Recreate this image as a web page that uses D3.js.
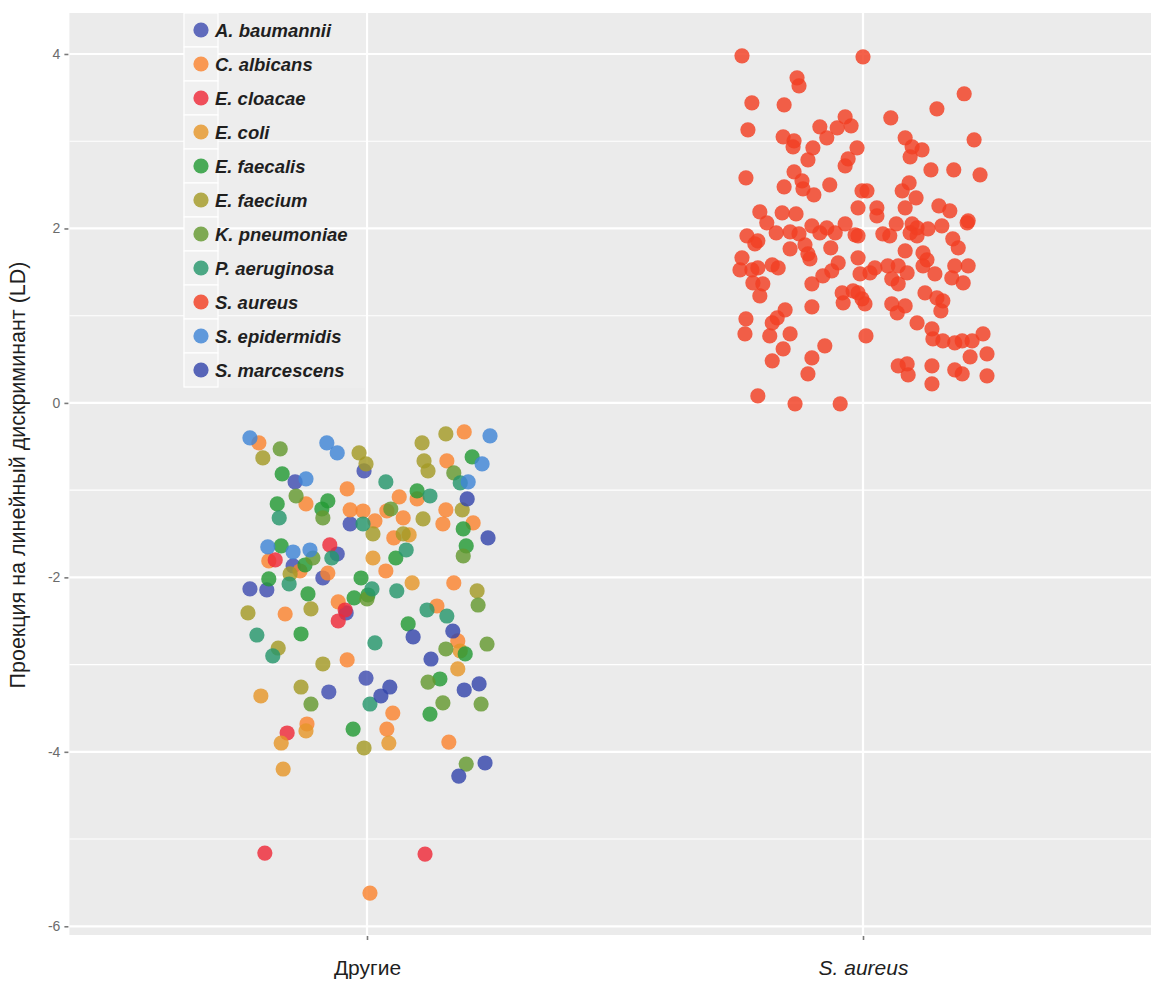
<!DOCTYPE html>
<html>
<head>
<meta charset="utf-8">
<script src="https://cdn.jsdelivr.net/npm/d3@7"></script>
<style>
  body { margin: 0; background: #ffffff; }
  svg { display: block; }
  text { font-family: "Liberation Sans", Arial, Helvetica, sans-serif; }
</style>
</head>
<body>
<svg id="chart" width="1151" height="981"></svg>
<script>
// Categories on the horizontal axis and LD tick values
const categories = ["Другие", "S. aureus"];
const yTicks = [-6, -4, -2, 0, 2, 4];
const yMinorTicks = [-5, -3, -1, 1, 3];

const speciesNames = [
  "A. baumannii", "C. albicans", "E. cloacae", "E. coli", "E. faecalis",
  "E. faecium", "K. pneumoniae", "P. aeruginosa", "S. aureus",
  "S. epidermidis", "S. marcescens"
];
const speciesColors = [
  "#3f4db0", "#fa8430", "#ee2a38", "#e5962a", "#239a35",
  "#a49a26", "#64982f", "#26966b", "#f23e22", "#3f85d6", "#3445ab"
];

// Each point: [jitter within the category, projection on LD]
const aBaumannii = [
  [-0.006, -0.780], [-0.145, -0.906], [-0.034, -1.388], [-0.060, -1.732],
  [-0.149, -1.869], [-0.089, -2.007], [-0.236, -2.133], [-0.202, -2.144],
  [-0.042, -2.408], [-0.002, -3.154], [-0.077, -3.314]
];
const cAlbicans = [
  [-0.218, -0.459], [-0.123, -1.158], [-0.040, -0.986], [-0.034, -1.227],
  [-0.008, -1.239], [-0.198, -1.812], [-0.135, -1.927], [-0.079, -1.950],
  [-0.058, -2.282], [-0.165, -2.420], [-0.040, -2.947], [-0.121, -3.681],
  [0.196, -0.333], [0.161, -0.665], [0.065, -1.078], [0.101, -1.101],
  [0.159, -1.227], [0.040, -1.239], [0.016, -1.353], [0.073, -1.319],
  [0.153, -1.388], [0.214, -1.376], [0.054, -1.548], [0.038, -1.927],
  [0.175, -2.064], [0.141, -2.328], [0.183, -2.729], [0.052, -3.555],
  [0.040, -3.739], [0.165, -3.888], [0.006, -5.619]
];
const eCloacae = [
  [-0.075, -1.628], [-0.185, -1.800], [-0.044, -2.374], [-0.058, -2.500],
  [-0.161, -3.784], [-0.206, -5.161], [0.117, -5.172]
];
const eColi = [
  [-0.214, -3.360], [-0.123, -3.761], [-0.173, -3.899], [-0.169, -4.197],
  [0.085, -1.514], [0.012, -1.778], [0.091, -2.064], [0.183, -3.050],
  [0.044, -3.899], [0.188, -2.844]
];
const eFaecalis = [
  [-0.171, -0.814], [-0.181, -1.158], [-0.079, -1.124], [-0.091, -1.216],
  [-0.173, -1.640], [-0.125, -1.858], [-0.198, -2.018], [-0.012, -2.007],
  [-0.119, -2.190], [-0.026, -2.236], [0.002, -2.202], [-0.133, -2.649],
  [-0.028, -3.739], [0.212, -0.619], [0.101, -1.009], [0.194, -1.445],
  [0.200, -1.640], [0.058, -1.778], [0.083, -2.534], [0.198, -2.878],
  [0.147, -3.165], [0.127, -3.567]
];
const eFaecium = [
  [-0.210, -0.631], [-0.016, -0.573], [-0.002, -0.700], [-0.155, -1.961],
  [-0.240, -2.408], [-0.113, -2.362], [-0.179, -2.810], [-0.089, -2.993],
  [-0.133, -3.257], [-0.006, -3.956], [0.111, -0.459], [0.159, -0.356],
  [0.115, -0.665], [0.123, -0.780], [0.192, -1.227], [0.113, -1.330],
  [0.012, -1.502], [0.073, -1.502], [0.222, -2.156]
];
const kPneumoniae = [
  [-0.175, -0.528], [-0.143, -1.067], [-0.089, -1.319], [-0.109, -1.778],
  [-0.113, -3.452], [0.175, -0.803], [0.048, -1.216], [0.194, -1.755],
  [0.224, -2.317], [0.159, -2.821], [0.242, -2.764], [0.123, -3.200],
  [0.153, -3.440], [0.230, -3.452], [0.200, -4.140], [0.000, -2.248]
];
const pAeruginosa = [
  [-0.177, -1.319], [-0.008, -1.388], [-0.071, -1.778], [-0.157, -2.076],
  [-0.222, -2.661], [-0.190, -2.901], [0.006, -3.452], [0.188, -0.917],
  [0.038, -0.906], [0.127, -1.067], [0.079, -1.686], [0.010, -2.133],
  [0.060, -2.156], [0.121, -2.374], [0.161, -2.443], [0.016, -2.752]
];
const sAureus = [
  [-0.244, 3.979], [-0.133, 3.727], [-0.129, 3.635], [-0.224, 3.440],
  [-0.159, 3.417], [-0.232, 3.131], [-0.161, 3.050], [-0.139, 3.005],
  [-0.141, 2.936], [-0.087, 3.165], [-0.073, 3.039], [-0.052, 3.154],
  [-0.036, 3.280], [-0.024, 3.177], [-0.101, 2.924], [-0.012, 2.924],
  [-0.111, 2.787], [-0.030, 2.798], [-0.036, 2.718], [-0.236, 2.580],
  [-0.139, 2.649], [-0.123, 2.546], [-0.121, 2.454], [-0.099, 2.385],
  [-0.159, 2.477], [-0.067, 2.500], [-0.002, 2.431], [-0.010, 2.236],
  [-0.208, 2.190], [-0.163, 2.179], [-0.135, 2.167], [-0.194, 2.064],
  [0.000, 3.968],
  [0.204, 3.544], [0.149, 3.372], [0.056, 3.268], [0.085, 3.039],
  [0.099, 2.936], [0.119, 2.901], [0.095, 2.821], [0.224, 3.016],
  [0.137, 2.672], [0.183, 2.672], [0.236, 2.615], [0.008, 2.431],
  [0.093, 2.523], [0.079, 2.431], [0.107, 2.351], [0.028, 2.236],
  [0.028, 2.144], [0.085, 2.236], [0.153, 2.259], [0.175, 2.202],
  [0.212, 2.087], [0.067, 2.053], [0.099, 2.053], [0.109, 2.007],
  [0.159, 2.030], [0.131, 1.995],
  [-0.175, 1.950], [-0.234, 1.915], [-0.218, 1.823], [-0.212, 1.858],
  [-0.147, 1.961], [-0.129, 1.938], [-0.103, 2.030], [-0.087, 1.950],
  [-0.073, 2.007], [-0.056, 1.950], [-0.036, 2.053], [-0.016, 1.927],
  [-0.244, 1.663], [-0.248, 1.525], [-0.224, 1.525], [-0.212, 1.548],
  [-0.183, 1.583], [-0.171, 1.548], [-0.147, 1.766], [-0.117, 1.812],
  [-0.111, 1.709], [-0.107, 1.651], [-0.065, 1.778], [-0.050, 1.606],
  [-0.063, 1.514], [-0.081, 1.456], [-0.010, 1.663], [-0.006, 1.479],
  [-0.222, 1.376], [-0.202, 1.365], [-0.208, 1.227], [-0.103, 1.365],
  [-0.042, 1.261], [-0.020, 1.284], [-0.040, 1.147], [-0.002, 1.193],
  [-0.103, 1.101], [-0.236, 0.963], [-0.238, 0.791], [-0.157, 1.067],
  [-0.173, 0.975], [-0.183, 0.917], [-0.188, 0.768], [-0.147, 0.791],
  [-0.161, 0.619], [-0.183, 0.482], [-0.077, 0.654], [-0.103, 0.516],
  [-0.111, 0.333], [-0.212, 0.080], [-0.137, -0.011], [-0.046, -0.011],
  [0.006, 0.768],
  [0.210, 2.064], [0.040, 1.938], [0.054, 1.915], [0.095, 1.950],
  [0.109, 1.915], [-0.010, 1.915], [0.181, 1.881], [0.192, 1.778],
  [0.085, 1.743], [0.121, 1.720], [0.129, 1.640], [0.024, 1.548],
  [0.050, 1.571], [0.071, 1.571], [0.089, 1.491], [0.014, 1.491],
  [0.121, 1.571], [0.145, 1.479], [0.185, 1.571], [0.212, 1.571],
  [0.179, 1.433], [0.202, 1.376], [0.058, 1.422], [0.071, 1.365],
  [0.125, 1.261], [0.149, 1.204], [0.161, 1.170], [0.157, 1.055],
  [-0.010, 1.261], [0.004, 1.135], [0.058, 1.135], [0.085, 1.112],
  [0.069, 1.032], [0.109, 0.917], [0.139, 0.849], [0.141, 0.734],
  [0.161, 0.711], [0.185, 0.688], [0.200, 0.711], [0.220, 0.711],
  [0.242, 0.791], [0.216, 0.528], [0.250, 0.562], [0.071, 0.424],
  [0.089, 0.447], [0.091, 0.321], [0.139, 0.424], [0.139, 0.218],
  [0.185, 0.378], [0.200, 0.333], [0.250, 0.310]
];
const sEpidermidis = [
  [-0.236, -0.401], [-0.081, -0.459], [-0.060, -0.573], [-0.123, -0.872],
  [-0.200, -1.651], [-0.149, -1.709], [-0.115, -1.686], [0.248, -0.378],
  [0.232, -0.700], [0.204, -0.906]
];
const sMarcescens = [
  [0.202, -1.101], [0.244, -1.548], [0.093, -2.683], [0.173, -2.615],
  [0.129, -2.936], [0.196, -3.291], [0.226, -3.222], [0.046, -3.257],
  [0.028, -3.360], [0.238, -4.128], [0.185, -4.278]
];

const speciesPoints = [
  aBaumannii, cAlbicans, eCloacae, eColi, eFaecalis, eFaecium,
  kPneumoniae, pAeruginosa, sAureus, sEpidermidis, sMarcescens
];

// ---- layout ----
const svg = d3.select("#chart");
const panel = { left: 69.4, right: 1160.6, top: 13, bottom: 935 };
const fontStack = "'Liberation Sans', Arial, Helvetica, sans-serif";

const x = d3.scaleLinear().domain([0.4, 2.6]).range([panel.left, panel.right]);
const y = d3.scaleLinear().domain([-6.10, 4.47]).range([panel.bottom, panel.top]);
const color = d3.scaleOrdinal().domain(speciesNames).range(speciesColors);

// panel background
svg.append("rect")
  .attr("x", panel.left).attr("y", panel.top)
  .attr("width", panel.right - panel.left).attr("height", panel.bottom - panel.top)
  .attr("fill", "#ebebeb");

const grid = svg.append("g");
grid.selectAll(".minor").data(yMinorTicks).join("line")
  .attr("x1", panel.left).attr("x2", panel.right)
  .attr("y1", d => y(d)).attr("y2", d => y(d))
  .attr("stroke", "#ffffff").attr("stroke-width", 1.1);
grid.selectAll(".major").data(yTicks).join("line")
  .attr("x1", panel.left).attr("x2", panel.right)
  .attr("y1", d => y(d)).attr("y2", d => y(d))
  .attr("stroke", "#ffffff").attr("stroke-width", 2.2);
grid.selectAll(".vmajor").data(categories).join("line")
  .attr("x1", (d, i) => x(i + 1)).attr("x2", (d, i) => x(i + 1))
  .attr("y1", panel.top).attr("y2", panel.bottom)
  .attr("stroke", "#ffffff").attr("stroke-width", 2.2);

// points
const groupOf = name => (name === "S. aureus" ? 2 : 1);
const pts = svg.append("g");
speciesNames.forEach((name, k) => {
  pts.selectAll(null).data(speciesPoints[k]).join("circle")
    .attr("cx", d => x(groupOf(name) + d[0]))
    .attr("cy", d => y(d[1]))
    .attr("r", 7.6)
    .attr("fill", color(name))
    .attr("fill-opacity", 0.82);
});

// y axis
const yAxis = d3.axisLeft(y).tickValues(yTicks).tickSize(4).tickPadding(4)
  .tickFormat(d => String(d));
const yg = svg.append("g").attr("transform", `translate(${panel.left - 1},0)`).call(yAxis);
yg.select(".domain").remove();
yg.selectAll(".tick line").attr("stroke", "#7a7a7a").attr("stroke-width", 1.6);
yg.selectAll(".tick text").attr("fill", "#6b6b6b").attr("font-size", 14)
  .style("font-family", fontStack);

// x axis
const xAxis = d3.axisBottom(x).tickValues([1, 2]).tickSize(4).tickPadding(20)
  .tickFormat(d => categories[d - 1]);
const xg = svg.append("g").attr("transform", `translate(0,${panel.bottom + 1})`).call(xAxis);
xg.select(".domain").remove();
xg.selectAll(".tick line").attr("stroke", "#7a7a7a").attr("stroke-width", 1.6);
xg.selectAll(".tick text").attr("fill", "#1f1f1f").attr("font-size", 21)
  .style("font-family", fontStack)
  .attr("font-style", d => (d === 2 ? "italic" : "normal"));

// y axis title
svg.append("text")
  .attr("transform", `translate(25,${(panel.top + panel.bottom) / 2 + 1}) rotate(-90)`)
  .attr("text-anchor", "middle")
  .attr("font-size", 21.5)
  .attr("fill", "#1f1f1f")
  .text("Проекция на линейный дискриминант (LD)");

// legend inside the panel
const legend = svg.append("g").attr("transform", "translate(183,12)");
const rowH = 34;
legend.append("rect")
  .attr("x", 0).attr("y", 0).attr("width", 182).attr("height", rowH * speciesNames.length + 2)
  .attr("fill", "#ffffff").attr("fill-opacity", 0.12);
const rows = legend.selectAll("g.row").data(speciesNames).join("g")
  .attr("transform", (d, i) => `translate(0,${i * rowH})`);
rows.append("rect")
  .attr("x", 1).attr("y", 1).attr("width", 34).attr("height", rowH)
  .attr("fill", "#f0f0f0").attr("stroke", "#ffffff").attr("stroke-width", 1.2);
rows.append("circle")
  .attr("cx", 18).attr("cy", rowH / 2 + 1).attr("r", 7.6)
  .attr("fill", d => color(d)).attr("fill-opacity", 0.82);
rows.append("text")
  .attr("x", 32).attr("y", rowH / 2 + 1).attr("dy", "0.36em")
  .attr("font-size", 18.5).attr("font-weight", "bold").attr("font-style", "italic")
  .attr("fill", "#1f1f1f")
  .text(d => d);
</script>
</body>
</html>
